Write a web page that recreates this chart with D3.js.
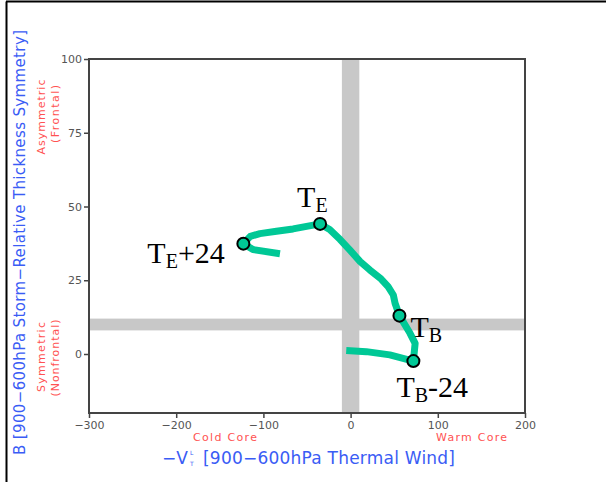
<!DOCTYPE html>
<html>
<head>
<meta charset="utf-8">
<script src="https://cdn.jsdelivr.net/npm/d3@7"></script>
<style>
  body { margin: 0; background: #fff; }
  svg { display: block; }
</style>
</head>
<body>
<script>
// phase space track (Vt_L vs B)
var trackX = [-5, 18, 45, 72, 74, 68, 56, 51, 49, 43, 34, 22, 11, -1, -12, -24, -35, -66, -85, -104, -115, -123, -112, -81];
var trackY = [1.2, 0.8, -0.3, -2.4, 3.6, 7.1, 13, 17.2, 20, 22.8, 25.7, 28.5, 31.3, 35.3, 38.8, 42.2, 44.1, 42.4, 41.6, 40.8, 39.9, 37.4, 35.4, 34];

// labelled points (index into track)
var markIdx = [3, 6, 16, 21];
var markMain = ["T", "T", "T", "T"];
var markSub = ["B", "B", "E", "E"];
var markTail = ["-24", "", "", "+24"];

var xTicks = [-300, -200, -100, 0, 100, 200];
var yTicks = [0, 25, 50, 75, 100];

var W = 606, H = 482;
var svg = d3.select("body").append("svg").attr("width", W).attr("height", H);

var x = d3.scaleLinear().domain([-300, 200]).range([89, 525]);
var y = d3.scaleLinear().domain([-20, 100]).range([413, 59]);

// outer frame bits (left + top only)
svg.append("line").attr("x1", 6.5).attr("y1", 1.5).attr("x2", 6.5).attr("y2", H).attr("stroke", "#000").attr("stroke-width", 2);
svg.append("line").attr("x1", 6).attr("y1", 1.5).attr("x2", W).attr("y2", 1.5).attr("stroke", "#000").attr("stroke-width", 2);

// gray threshold bands
svg.append("rect")
  .attr("x", x(-10)).attr("width", x(10) - x(-10))
  .attr("y", y(100)).attr("height", y(-20) - y(100))
  .attr("fill", "#c8c8c8");
svg.append("rect")
  .attr("x", x(-300)).attr("width", x(200) - x(-300))
  .attr("y", y(12)).attr("height", y(8) - y(12))
  .attr("fill", "#c8c8c8");

// plot frame
svg.append("rect")
  .attr("x", x(-300)).attr("y", y(100))
  .attr("width", x(200) - x(-300)).attr("height", y(-20) - y(100))
  .attr("fill", "none").attr("stroke", "#444").attr("stroke-width", 2);

var fmt = function (d) { return d < 0 ? "\u2212" + Math.abs(d) : d; };

var xAxis = svg.append("g").attr("transform", "translate(0," + y(-20) + ")")
  .call(d3.axisBottom(x).tickValues(xTicks).tickSize(5).tickPadding(3).tickFormat(fmt));
var yAxis = svg.append("g").attr("transform", "translate(" + x(-300) + ",0)")
  .call(d3.axisLeft(y).tickValues(yTicks).tickSize(5).tickPadding(2).tickFormat(fmt));
[xAxis, yAxis].forEach(function (g) {
  g.select(".domain").remove();
  g.selectAll("line").attr("stroke", "#444").attr("stroke-width", 1.5);
  g.selectAll("text").attr("fill", "#555").style("font-family", "DejaVu Sans").style("font-size", "11px");
});

// track
var line = d3.line()
  .x(function (d) { return x(trackX[d]); })
  .y(function (d) { return y(trackY[d]); });
svg.append("path")
  .datum(d3.range(trackX.length))
  .attr("d", line)
  .attr("fill", "none")
  .attr("stroke", "#00c896")
  .attr("stroke-width", 7)
  .attr("stroke-linejoin", "round");

svg.selectAll("circle.mk")
  .data(markIdx)
  .enter().append("circle")
  .attr("class", "mk")
  .attr("cx", function (d) { return x(trackX[d]); })
  .attr("cy", function (d) { return y(trackY[d]); })
  .attr("r", 6)
  .attr("fill", "#00c896")
  .attr("stroke", "#000")
  .attr("stroke-width", 2);

// label placement, pixel offsets from each marker
var labDx = [-17, 11, -23, -96];
var labDy = [36, 21, -17, 19];

markIdx.forEach(function (d, i) {
  var t = svg.append("text")
    .attr("x", x(trackX[d]) + labDx[i])
    .attr("y", y(trackY[d]) + labDy[i])
    .style("font-family", "Liberation Serif")
    .style("font-size", "30px")
    .attr("fill", "#000");
  t.append("tspan").text(markMain[i]);
  t.append("tspan").attr("dy", 5).style("font-size", "20px").text(markSub[i]);
  if (markTail[i]) t.append("tspan").attr("dy", -5).text(markTail[i]);
});

// axis titles
var blue = "#3a5cf5", red = "#ff5252";

svg.append("text")
  .attr("transform", "translate(25,242.5) rotate(-90)")
  .attr("text-anchor", "middle")
  .attr("textLength", 425).attr("lengthAdjust", "spacing")
  .style("font-family", "DejaVu Sans").style("font-size", "15px")
  .attr("fill", blue)
  .text("B [900\u2212600hPa Storm\u2212Relative Thickness Symmetry]");

var redY = [
  { t: "Asymmetric", cx: 41, cy: 117, len: 75 },
  { t: "(Frontal)", cx: 55, cy: 114, len: 58 },
  { t: "Symmetric", cx: 41, cy: 357, len: 70 },
  { t: "(Nonfrontal)", cx: 55, cy: 358, len: 77 }
];
redY.forEach(function (d) {
  svg.append("text")
    .attr("transform", "translate(" + (d.cx + 4) + "," + d.cy + ") rotate(-90)")
    .attr("text-anchor", "middle")
    .attr("textLength", d.len).attr("lengthAdjust", "spacing")
    .style("font-family", "DejaVu Sans").style("font-size", "11px")
    .attr("fill", red)
    .text(d.t);
});

svg.append("text").attr("x", 225).attr("y", 441).attr("text-anchor", "middle")
  .attr("textLength", 64).attr("lengthAdjust", "spacing")
  .style("font-family", "DejaVu Sans").style("font-size", "11px").attr("fill", red)
  .text("Cold Core");
svg.append("text").attr("x", 471.5).attr("y", 441).attr("text-anchor", "middle")
  .attr("textLength", 71).attr("lengthAdjust", "spacing")
  .style("font-family", "DejaVu Sans").style("font-size", "11px").attr("fill", red)
  .text("Warm Core");

// x title: -V_T^L [900-600hPa Thermal Wind]
svg.append("text").attr("x", 162).attr("y", 464)
  .style("font-family", "DejaVu Sans").style("font-size", "17px").attr("fill", blue)
  .text("\u2212V");
svg.append("text").attr("x", 190).attr("y", 455)
  .style("font-family", "DejaVu Sans").style("font-size", "6px").attr("fill", blue)
  .text("L");
svg.append("text").attr("x", 190).attr("y", 466)
  .style("font-family", "DejaVu Sans").style("font-size", "6px").attr("fill", blue)
  .text("T");
svg.append("text").attr("x", 203).attr("y", 464)
  .attr("textLength", 252).attr("lengthAdjust", "spacing")
  .style("font-family", "DejaVu Sans").style("font-size", "17px").attr("fill", blue)
  .text("[900\u2212600hPa Thermal Wind]");
</script>
</body>
</html>
